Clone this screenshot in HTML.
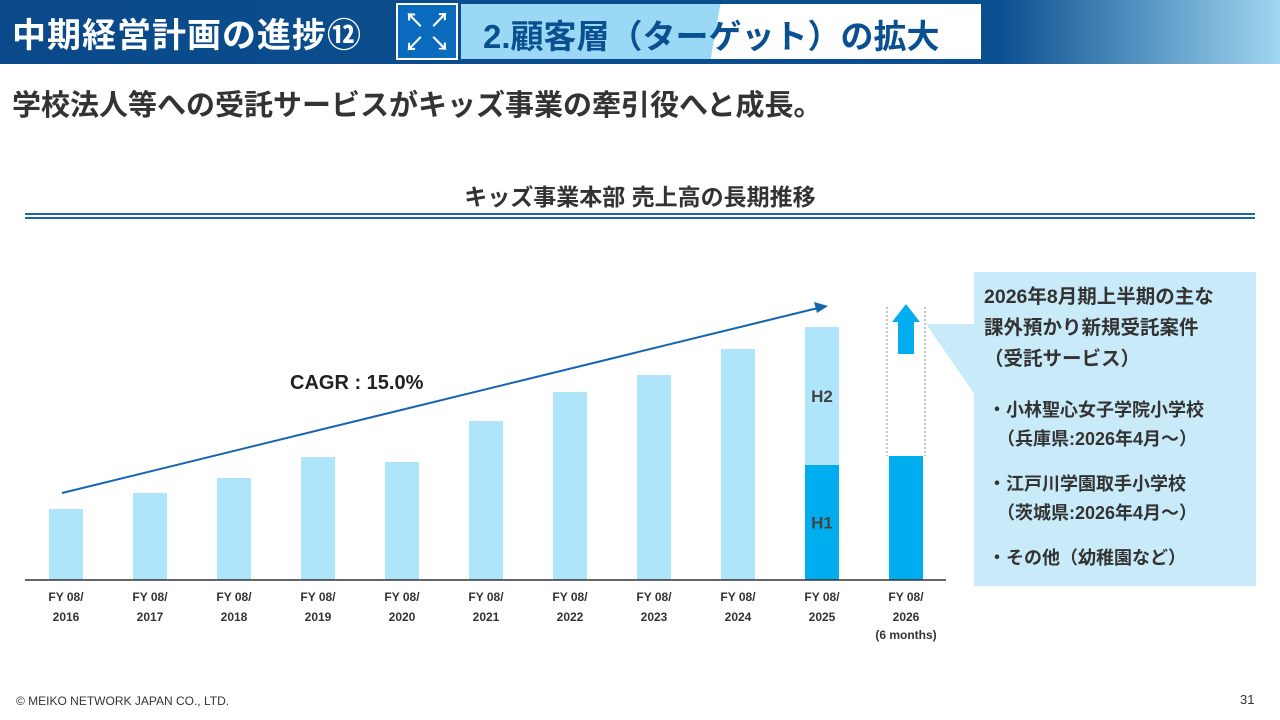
<!DOCTYPE html>
<html><head><meta charset="utf-8"><style>
body{margin:0;width:1280px;height:720px;position:relative;background:#fff;font-family:"Liberation Sans","Noto Sans CJK JP",sans-serif;overflow:hidden}
.a{position:absolute}
</style></head><body>
<div class="a" style="left:0;top:0;width:1280px;height:64px;background:linear-gradient(90deg,#0a4a8a 0,#0a4f90 1000px,#9fd6f0 1280px)"></div>
<div class="a" style="left:12px;top:8px;font-size:34px;font-weight:bold;color:#fff;letter-spacing:1px;white-space:nowrap">中期経営計画の進捗⑫</div>
<div class="a" style="left:396px;top:3px;width:62px;height:57px;background:#0a6bbd;border:2px solid #fff;box-sizing:border-box;color:#fff;font-size:20px;font-weight:bold;line-height:24px;text-align:center;padding-top:4px">↖ ↗<br>↙ ↘</div>
<div class="a" style="left:461px;top:4px;width:520px;height:55px;background:linear-gradient(100deg,#9ad8f5 0,#9ad8f5 255px,#fff 256px)"></div>
<div class="a" style="left:483px;top:10px;font-size:33px;font-weight:bold;color:#0a4f90;white-space:nowrap">2.顧客層（ターゲット）の拡大</div>
<div class="a" style="left:12px;top:82px;font-size:29px;font-weight:bold;color:#333;white-space:nowrap">学校法人等への受託サービスがキッズ事業の牽引役へと成長。</div>
<div class="a" style="left:0;width:1280px;top:178px;text-align:center;font-size:23px;font-weight:bold;color:#333">キッズ事業本部 売上高の長期推移</div>
<div class="a" style="left:25px;top:213px;width:1230px;height:2px;background:#1565b0;box-shadow:0 4px 0 #1565b0"></div>
<svg class="a" style="left:0;top:0" width="1280" height="720">
<g id="g"></g>
</svg>
<div class="a" style="left:974px;top:272px;width:282px;height:314px;background:#c9ebf9"></div>
<div class="a" style="left:984px;top:282px;font-size:19.5px;font-weight:bold;color:#333;line-height:31px;white-space:nowrap">2026年8月期上半期の主な<br>課外預かり新規受託案件<br>（受託サービス）</div>
<div class="a" style="left:988px;top:396px;font-size:18px;font-weight:bold;color:#333;line-height:29px;white-space:nowrap">・小林聖心女子学院小学校<br>　（兵庫県:2026年4月～）<div style="height:16px"></div>・江戸川学園取手小学校<br>　（茨城県:2026年4月～）<div style="height:16px"></div>・その他（幼稚園など）</div>
<div class="a" style="left:16px;top:694px;font-size:12px;color:#333">© MEIKO NETWORK JAPAN CO., LTD.</div>
<div class="a" style="left:1240px;top:692px;font-size:13px;color:#333">31</div>
<script>
const categories=["2016","2017","2018","2019","2020","2021","2022","2023","2024","2025","2026"];
const totals=[71,87,102,123,118,159,188,205,231,253,null];
const h1Values=[null,null,null,null,null,null,null,null,null,115,124];
const cagrLabel="CAGR : 15.0%";
const NS="http://www.w3.org/2000/svg",g=document.getElementById('g');
const base=580,x0=49,step=84,bw=34;
const xs=i=>x0+i*step, ys=v=>base-v;
function mk(t,a,txt){const e=document.createElementNS(NS,t);for(const k in a)e.setAttribute(k,a[k]);if(txt)e.textContent=txt;g.appendChild(e);return e;}
categories.forEach((c,i)=>{
 if(totals[i]!=null){const r=mk('rect',{x:xs(i),y:ys(totals[i]),width:bw,height:totals[i],fill:'#aee5fa'});
 
 }
 if(h1Values[i]!=null){const r=mk('rect',{x:xs(i),y:ys(h1Values[i]),width:bw,height:h1Values[i],fill:'#00aeef'});
 
 }
 const t=mk('text',{x:xs(i)+bw/2,y:601,'text-anchor':'middle','font-size':12,'font-weight':'bold',fill:'#333'},'FY 08/');
 
 
 mk('text',{x:xs(i)+bw/2,y:621,'text-anchor':'middle','font-size':12,'font-weight':'bold',fill:'#333'},c);
});
mk('text',{x:xs(10)+bw/2,y:639,'text-anchor':'middle','font-size':12,'font-weight':'bold',fill:'#333'},'(6 months)');
mk('line',{x1:25,y1:580,x2:946,y2:580,stroke:'#333','stroke-width':1.5});
mk('text',{x:xs(9)+bw/2,y:ys((totals[9]+h1Values[9])/2)+6,'text-anchor':'middle','font-size':17,'font-weight':'bold',fill:'#444'},'H2');
mk('text',{x:xs(9)+bw/2,y:ys(h1Values[9]/2)+6,'text-anchor':'middle','font-size':17,'font-weight':'bold',fill:'#444'},'H1');
const dx=xs(10);
mk('line',{x1:dx-2,y1:307,x2:dx-2,y2:ys(h1Values[10]),stroke:'#888','stroke-dasharray':'2,2'});
mk('line',{x1:dx+bw+2,y1:307,x2:dx+bw+2,y2:ys(h1Values[10]),stroke:'#888','stroke-dasharray':'2,2'});
mk('polygon',{points:`${dx+17},304 ${dx+31},322 ${dx+25},322 ${dx+25},354 ${dx+9},354 ${dx+9},322 ${dx+3},322`,fill:'#00aeef'});
mk('polygon',{points:'926,324 975,324 975,395',fill:'#c9ebf9'});
mk('line',{x1:62,y1:493,x2:818,y2:308,stroke:'#1565b0','stroke-width':2});
mk('polygon',{points:'828,306 814,302 817,313',fill:'#1565b0'});
const cl=mk('text',{x:290,y:389,'font-size':20,'font-weight':'bold',fill:'#222'},cagrLabel);


</script>
</body></html>
